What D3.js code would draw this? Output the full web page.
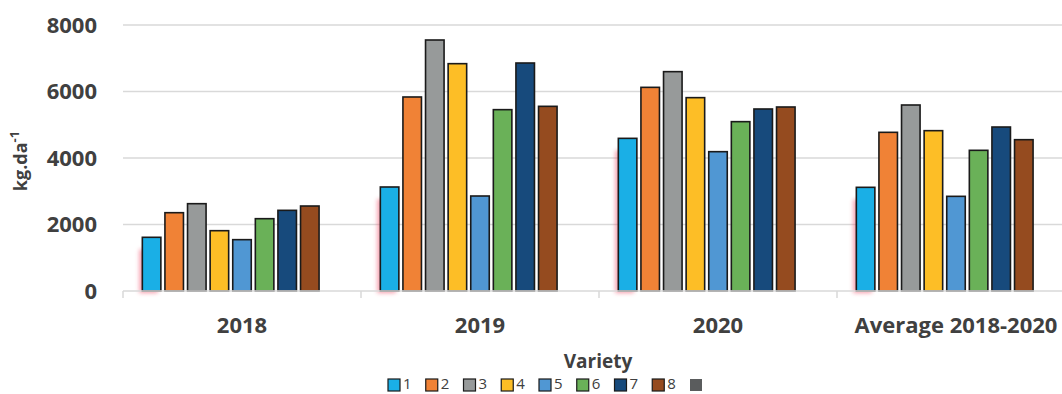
<!DOCTYPE html>
<html>
<head>
<meta charset="utf-8">
<script src="https://cdn.jsdelivr.net/npm/d3@7"></script>
<style>
  body { margin: 0; background: #fff; }
  text { font-family: "Open Sans", sans-serif; fill: #404040; }
</style>
</head>
<body>
<div id="chart"></div>
<script>
// data
const categories = ['2018', '2019', '2020', 'Average 2018-2020'];
const varieties = ['1', '2', '3', '4', '5', '6', '7', '8', ''];
const v1 = [1615, 3128, 4591, 3118];
const v2 = [2355, 5835, 6125, 4772];
const v3 = [2626, 7549, 6597, 5594];
const v4 = [1814, 6837, 5815, 4822];
const v5 = [1544, 2857, 4190, 2847];
const v6 = [2175, 5454, 5093, 4231];
const v7 = [2426, 6857, 5474, 4932];
const v8 = [2556, 5554, 5534, 4551];
const v9 = [0, 0, 0, 0];
const yTicks = [0, 2000, 4000, 6000, 8000];
const colors = ['#1AAFE6', '#F08236', '#979A9A', '#FDBE26', '#5097D3', '#6AB158', '#174A7C', '#954B1F', '#5A5C5D'];

const series = [v1, v2, v3, v4, v5, v6, v7, v8, v9];

const width = 1062, height = 394;
const margin = {top: 25, left: 123, bottom: 103};
const plotRight = 1075; // plot runs past the visible edge
const ch = height - margin.top - margin.bottom;

const svg = d3.select('#chart').append('svg').attr('width', width).attr('height', height);

const x0 = d3.scaleBand().domain(categories).range([margin.left, plotRight]);
const x1 = d3.scaleBand().domain(d3.range(9)).range([17.3, 220.7]).paddingInner(0.18).paddingOuter(0.09);
const y = d3.scaleLinear().domain([0, 8000]).range([margin.top + ch, margin.top]);

const defs = svg.append('defs');
defs.append('filter').attr('id', 'glow').attr('x', '-1').attr('y', '-1').attr('width', '3').attr('height', '3')
  .append('feGaussianBlur').attr('stdDeviation', 2.2);

// gridlines
svg.append('g')
  .selectAll('line')
  .data(yTicks.slice(1))
  .join('line')
  .attr('x1', margin.left).attr('x2', width)
  .attr('y1', d => y(d)).attr('y2', d => y(d))
  .attr('stroke', '#d9d9d9').attr('stroke-width', 1.5);

// y axis labels
svg.append('g')
  .selectAll('text')
  .data(yTicks)
  .join('text')
  .attr('x', 97).attr('y', d => y(d))
  .attr('dy', '0.36em')
  .attr('text-anchor', 'end')
  .attr('font-size', 22).attr('font-weight', 'bold')
  .text(d => d);

// y title
const yt = svg.append('text')
  .attr('transform', `translate(27, ${y(4000) + 3}) rotate(-90)`)
  .attr('text-anchor', 'middle')
  .attr('font-size', 18).attr('font-weight', 'bold');
yt.append('tspan').text('kg.da');
yt.append('tspan').attr('dy', -8).attr('font-size', 13).text('-1');

// glow behind the first bar of each group
svg.append('g')
  .selectAll('rect')
  .data(categories)
  .join('rect')
  .attr('x', (d, i) => x0(d) + x1(0) - 3)
  .attr('y', (d, i) => y(v1[i]) + 12)
  .attr('width', x1.bandwidth())
  .attr('height', (d, i) => y(0) - y(v1[i]) - 10)
  .attr('fill', '#f0506a').attr('opacity', 0.55)
  .attr('filter', 'url(#glow)');

// bars
const groups = svg.append('g')
  .selectAll('g')
  .data(categories)
  .join('g')
  .attr('transform', d => `translate(${x0(d)},0)`);

groups.selectAll('rect')
  .data((d, i) => series.slice(0, 8).map((s, k) => ({k, v: s[i]})))
  .join('rect')
  .attr('x', d => x1(d.k))
  .attr('y', d => y(d.v))
  .attr('width', x1.bandwidth())
  .attr('height', d => y(0) - y(d.v))
  .attr('fill', d => colors[d.k])
  .attr('stroke', '#1a1a1a').attr('stroke-width', 1.6);

// x axis line and ticks
const base = y(0);
svg.append('line')
  .attr('x1', margin.left).attr('x2', width)
  .attr('y1', base).attr('y2', base)
  .attr('stroke', '#d9d9d9').attr('stroke-width', 1.5);
svg.append('g')
  .selectAll('line')
  .data(categories.map(c => x0(c)))
  .join('line')
  .attr('x1', d => d).attr('x2', d => d)
  .attr('y1', base).attr('y2', base + 7)
  .attr('stroke', '#d9d9d9').attr('stroke-width', 1.5);

// category labels
svg.append('g')
  .selectAll('text')
  .data(categories)
  .join('text')
  .attr('x', d => x0(d) + x0.bandwidth() / 2)
  .attr('y', 333)
  .attr('text-anchor', 'middle')
  .attr('font-size', 22).attr('font-weight', 'bold')
  .text(d => d);

// x title
svg.append('text')
  .attr('x', 598).attr('y', 368)
  .attr('text-anchor', 'middle')
  .attr('font-size', 19).attr('font-weight', 'bold')
  .text('Variety');

// legend
const legend = svg.append('g')
  .selectAll('g')
  .data(varieties)
  .join('g')
  .attr('transform', (d, i) => `translate(${388 + i * 37.75}, 378)`);
legend.append('rect')
  .attr('y', 1)
  .attr('width', 12).attr('height', 12)
  .attr('fill', (d, i) => colors[i])
  .attr('stroke', (d, i) => i < 8 ? '#1a1a1a' : 'none').attr('stroke-width', 1.2);
legend.append('text')
  .attr('x', 15).attr('y', 11)
  .attr('font-size', 15)
  .text(d => d);
</script>
</body>
</html>
